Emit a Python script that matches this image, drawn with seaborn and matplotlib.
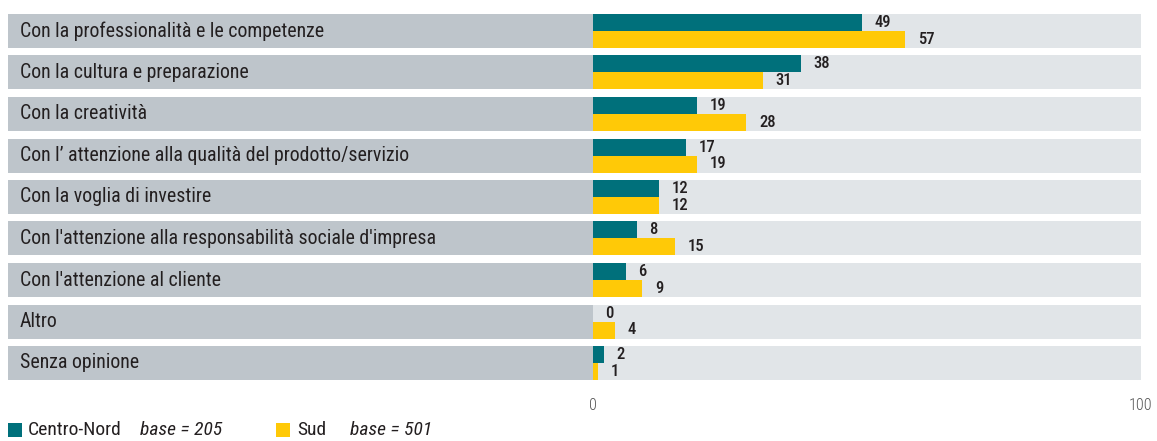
import matplotlib
matplotlib.use("Agg")
import matplotlib.pyplot as plt
import matplotlib.transforms as mtransforms
from matplotlib import font_manager
import seaborn as sns
import pandas as pd

categories = [
    "Con la professionalità e le competenze",
    "Con la cultura e preparazione",
    "Con la creatività",
    "Con l’ attenzione alla qualità del prodotto/servizio",
    "Con la voglia di investire",
    "Con l'attenzione alla responsabilità sociale d'impresa",
    "Con l'attenzione al cliente",
    "Altro",
    "Senza opinione",
]
centro_nord = [49, 38, 19, 17, 12, 8, 6, 0, 2]
sud = [57, 31, 28, 19, 12, 15, 9, 4, 1]
series_names = ["Centro-Nord", "Sud"]
series_bases = ["205", "501"]
x_ticks = [0, 100]

TEAL = "#00707b"
YELLOW = "#ffc907"
LABEL_BG = "#bec5cb"
BAR_BG = "#e1e5e8"
TXT = "#231f20"

names = {f.name for f in font_manager.fontManager.ttflist}
if "Liberation Sans Narrow" in names:
    FONT = "Liberation Sans Narrow"
elif "Roboto Condensed" in names:
    FONT = "Roboto Condensed"
else:
    FONT = "Roboto"

sns.set_theme(style="white")
plt.rcParams["font.family"] = [FONT, "DejaVu Sans"]

W, H = 1157, 441
fig = plt.figure(figsize=(W / 100, H / 100), dpi=100)
x0, x1 = 593, 1141
n = len(categories)
step = 41.5
top_c = 31
ax_top = top_c - step / 2
ax_bot = top_c + (n - 1) * step + step / 2
ax = fig.add_axes([x0 / W, 1 - ax_bot / H, (x1 - x0) / W, (ax_bot - ax_top) / H])

df = pd.DataFrame({
    "cat": categories * 2,
    "val": centro_nord + sud,
    "serie": [series_names[0]] * n + [series_names[1]] * n,
})

row_h = 34 / step
trans = mtransforms.blended_transform_factory(fig.transFigure, ax.transData)
for i in range(n):
    ax.add_patch(plt.Rectangle((8 / W, i - row_h / 2), (x0 - 8) / W, row_h,
                               transform=trans, facecolor=LABEL_BG, edgecolor="none",
                               clip_on=False, zorder=0))
    ax.add_patch(plt.Rectangle((0, i - row_h / 2), 100, row_h,
                               facecolor=BAR_BG, edgecolor="none", zorder=0))
    ax.text(20 / W, i, categories[i], transform=trans, ha="left", va="center",
            fontsize=14.3, color=TXT)

sns.barplot(data=df, y="cat", x="val", hue="serie", order=categories,
            hue_order=series_names, palette=[TEAL, YELLOW], width=row_h,
            orient="h", ax=ax, legend=False, saturation=1, zorder=2,
            linewidth=0, edgecolor="none")

for c in ax.containers:
    ax.bar_label(c, padding=9, fontsize=12, color=TXT, fontweight="medium")

ax.set_xlim(0, 100)
ax.set_ylim(n - 0.5, -0.5)
ax.set_xlabel("")
ax.set_ylabel("")
ax.set_yticks([])
ax.set_xticks(x_ticks)
ax.set_xticklabels([str(t) for t in x_ticks], fontsize=11.5, color="#555555",
                   fontweight="light")
ax.tick_params(axis="x", length=0, pad=10)
for s in ax.spines.values():
    s.set_visible(False)
ax.set_facecolor("none")

# legend
ly = 1 - 430 / H
sq = 14
fig.patches.append(plt.Rectangle((8 / W, 1 - 437 / H), sq / W, sq / H,
                                 transform=fig.transFigure, facecolor=TEAL, edgecolor="none"))
fig.text(28 / W, ly, series_names[0], fontsize=14, color=TXT, va="center")
fig.text(140 / W, ly, f"base = {series_bases[0]}", fontsize=14, color=TXT, va="center", style="italic")
fig.patches.append(plt.Rectangle((276 / W, 1 - 437 / H), sq / W, sq / H,
                                 transform=fig.transFigure, facecolor=YELLOW, edgecolor="none"))
fig.text(297 / W, ly, series_names[1], fontsize=14, color=TXT, va="center")
fig.text(350 / W, ly, f"base = {series_bases[1]}", fontsize=14, color=TXT, va="center", style="italic")

fig.savefig("out.png", dpi=100, facecolor="white")
